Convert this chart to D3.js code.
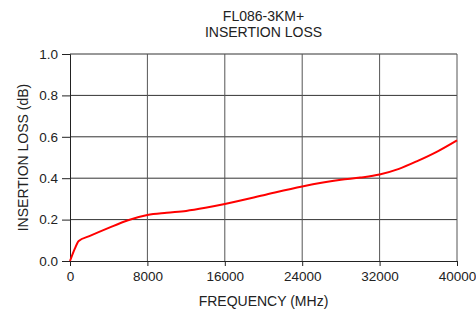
<!DOCTYPE html>
<html>
<head>
<meta charset="utf-8">
<script src="https://cdn.jsdelivr.net/npm/d3@7"></script>
<style>
  body { margin: 0; background: #fff; }
  svg text { font-family: "Liberation Sans", Arial, sans-serif; fill: #222; }
</style>
</head>
<body>
<svg id="svg" width="476" height="312"></svg>
<script>
// values
const freq = [0, 500, 900, 2000, 4000, 6000, 8000, 10000, 12000, 14000, 16000, 20000, 24000, 28000, 30000, 32000, 34000, 36000, 38000, 40000];
const loss = [0, 0.06, 0.097, 0.12, 0.16, 0.197, 0.222, 0.233, 0.242, 0.257, 0.275, 0.318, 0.36, 0.392, 0.403, 0.418, 0.445, 0.485, 0.53, 0.583];
const xTicks = [0, 8000, 16000, 24000, 32000, 40000];
const yTicks = [0, 0.2, 0.4, 0.6, 0.8, 1.0];
const titleLines = ['FL086-3KM+', 'INSERTION LOSS'];

const margin = { top: 54, right: 19, bottom: 51, left: 70 };
const width = 476 - margin.left - margin.right;
const height = 312 - margin.top - margin.bottom;

const svg = d3.select('#svg');
const g = svg.append('g')
  .attr('transform', 'translate(' + margin.left + ',' + margin.top + ')');

const x = d3.scaleLinear().domain([0, 40000]).range([0, width]);
const y = d3.scaleLinear().domain([0, 1]).range([height, 0]);

// grid
g.append('g')
  .selectAll('line')
  .data(yTicks.slice(1))
  .join('line')
  .attr('x1', 0)
  .attr('x2', width)
  .attr('y1', d => y(d))
  .attr('y2', d => y(d))
  .attr('stroke', '#333')
  .attr('stroke-width', 1);

g.append('g')
  .selectAll('line')
  .data(xTicks.slice(1))
  .join('line')
  .attr('x1', d => x(d))
  .attr('x2', d => x(d))
  .attr('y1', 0)
  .attr('y2', height)
  .attr('stroke', '#555')
  .attr('stroke-width', 1);

// axes
const xAxis = d3.axisBottom(x).tickValues(xTicks).tickFormat(d3.format('d')).tickSize(5).tickPadding(5);
const gx = g.append('g')
  .attr('transform', 'translate(0,' + height + ')')
  .call(xAxis);
gx.select('.domain').attr('stroke', '#222');
gx.selectAll('.tick line').attr('stroke', '#222');
gx.selectAll('text').style('font-size', '13.5px');

const yAxis = d3.axisLeft(y).tickValues(yTicks).tickFormat(d3.format('.1f')).tickSize(8).tickPadding(4);
const gy = g.append('g').call(yAxis);
gy.select('.domain').attr('stroke', '#222');
gy.selectAll('.tick line').attr('stroke', '#222');
gy.selectAll('text').style('font-size', '13.5px');

// curve
const line = d3.line()
  .x((d, i) => x(freq[i]))
  .y(d => y(d))
  .curve(d3.curveMonotoneX);

g.append('path')
  .datum(loss)
  .attr('fill', 'none')
  .attr('stroke', '#f00')
  .attr('stroke-width', 2)
  .attr('d', line);

// labels
svg.append('text')
  .attr('text-anchor', 'middle')
  .style('font-size', '14px')
  .selectAll('tspan')
  .data(titleLines)
  .join('tspan')
  .attr('x', margin.left + width / 2)
  .attr('y', (d, i) => 21 + i * 16)
  .text(d => d);

svg.append('text')
  .attr('x', margin.left + width / 2)
  .attr('y', 306)
  .attr('text-anchor', 'middle')
  .style('font-size', '14px')
  .text('FREQUENCY (MHz)');

svg.append('text')
  .attr('transform', 'translate(28,' + (margin.top + height / 2) + ') rotate(-90)')
  .attr('text-anchor', 'middle')
  .style('font-size', '14px')
  .text('INSERTION LOSS (dB)');
</script>
</body>
</html>
